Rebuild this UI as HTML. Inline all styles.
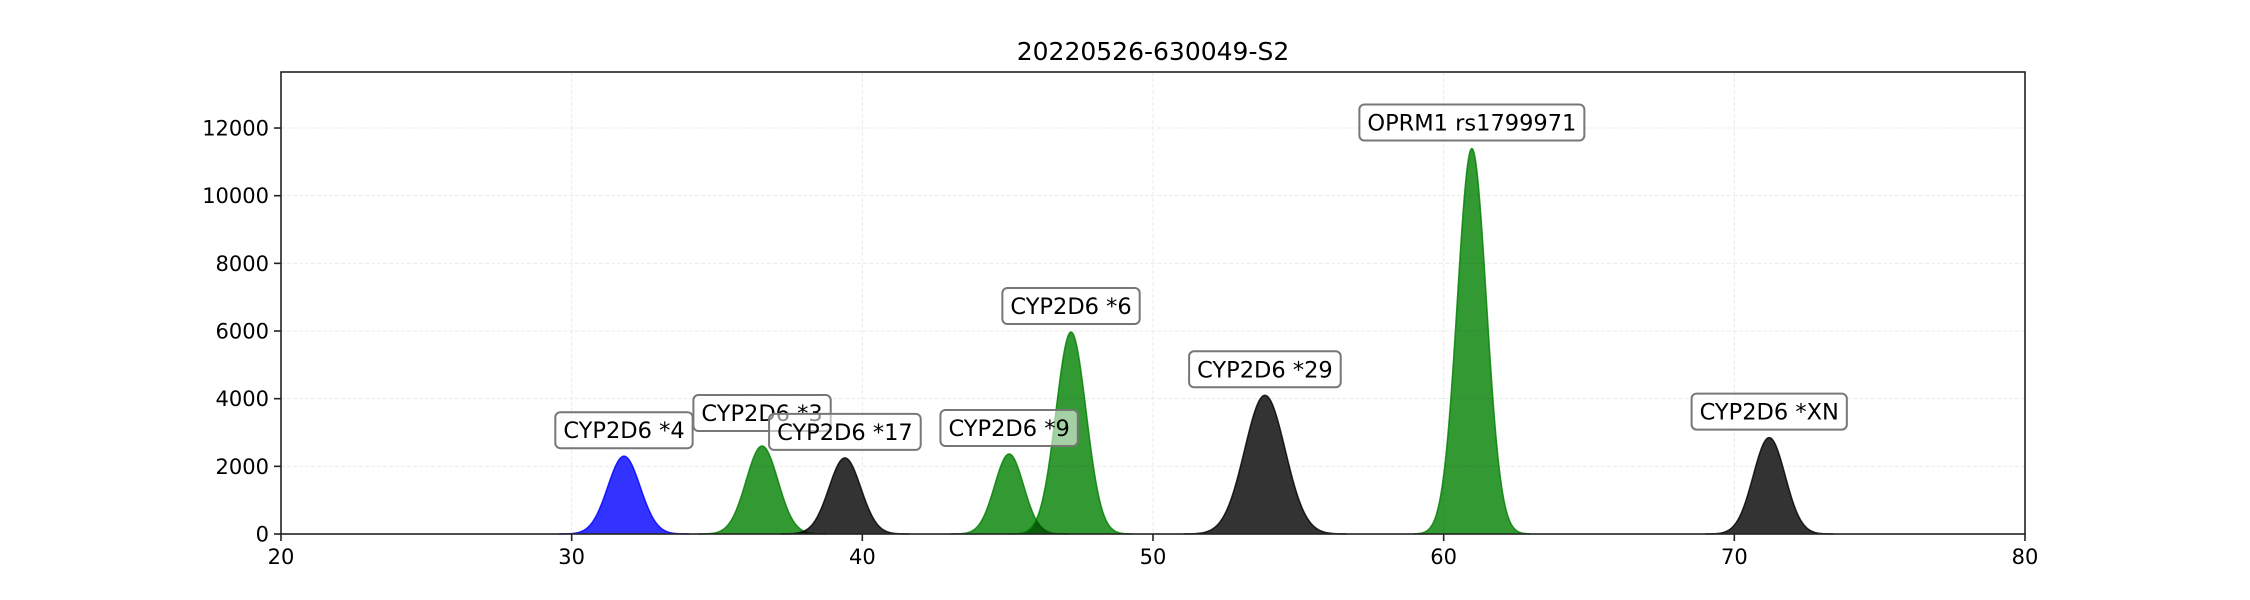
<!DOCTYPE html>
<html><head><meta charset="utf-8"><style>
html,body{margin:0;padding:0;background:#fff;}
svg{display:block;font-family:"DejaVu Sans","Liberation Sans",sans-serif;}
</style></head><body>
<svg id="chart" width="2250" height="600" viewBox="0 0 2250 600" xmlns="http://www.w3.org/2000/svg">
<rect x="0" y="0" width="2250" height="600" fill="#fff"/>
<text x="1153" y="60" text-anchor="middle" font-size="25" fill="#000">20220526-630049-S2</text>
<g id="grid"></g>
<g id="peaks"></g>
<g id="axes"></g>
<g id="labels"></g>
</svg>
<script>
const names = ["CYP2D6 *4","CYP2D6 *3","CYP2D6 *17","CYP2D6 *9","CYP2D6 *6","CYP2D6 *29","OPRM1 rs1799971","CYP2D6 *XN"];
const centers = [31.8, 36.55, 39.4, 45.05, 47.18, 53.85, 60.97, 71.2];
const heights = [2300, 2600, 2250, 2365, 5970, 4100, 11395, 2850];
const sigmas = [0.56, 0.55, 0.55, 0.5, 0.52, 0.7, 0.5, 0.55];
const colorKeys = ["blue","green","black","green","green","black","green","black"];
const xTicks = [20,30,40,50,60,70,80];
const yTicks = [0,2000,4000,6000,8000,10000,12000];

const L=281, R=2025, T=72, B=534, XMIN=20, XMAX=80, YMIN=0, YMAX=13656;
const sx = v => L + (v-XMIN)/(XMAX-XMIN)*(R-L);
const sy = v => B - (v-YMIN)/(YMAX-YMIN)*(B-T);
const NS="http://www.w3.org/2000/svg";
const fills={blue:"rgb(51,51,255)",green:"rgb(51,153,51)",black:"rgb(51,51,51)"};
const strokes={blue:"#0000ff",green:"#008000",black:"#000"};
function mk(tag,attrs,parent){const e=document.createElementNS(NS,tag);for(const k in attrs)e.setAttribute(k,attrs[k]);parent.appendChild(e);return e;}

const grid=document.getElementById('grid');
xTicks.forEach(t=>{const l=mk('line',{x1:sx(t),x2:sx(t),y1:T,y2:B,stroke:"#ebebeb","stroke-width":1,"stroke-dasharray":"4,2"},grid);

});
yTicks.forEach(t=>{const l=mk('line',{x1:L,x2:R,y1:sy(t),y2:sy(t),stroke:"#ebebeb","stroke-width":1,"stroke-dasharray":"4,2"},grid);

});

const pk=document.getElementById('peaks');
for(let i=0;i<names.length;i++){
  const c=centers[i],h=heights[i],s=sigmas[i];
  const x0=c-4*s,x1=c+4*s;let d="M"+sx(x0)+","+sy(0);let line="";
  for(let k=0;k<=160;k++){const x=x0+(x1-x0)*k/160;const y=h*Math.exp(-0.5*((x-c)/s)**2);
    d+=" L"+sx(x).toFixed(2)+","+sy(y).toFixed(2);line+=(k?" L":"M")+sx(x).toFixed(2)+","+sy(y).toFixed(2);}
  d+=" L"+sx(x1)+","+sy(0)+" Z";
  const p=mk('path',{d:d,fill:fills[colorKeys[i]],"fill-opacity":1,stroke:"none"},pk);
  p.setAttribute('style','mix-blend-mode:multiply');
  
  
  const ln=mk('path',{d:line,fill:"none",stroke:strokes[colorKeys[i]],"stroke-width":1.5,"stroke-opacity":0.8},pk);
  
  
}

const ax=document.getElementById('axes');
const frame=mk('rect',{x:L,y:T,width:R-L,height:B-T,fill:"none",stroke:"#222","stroke-width":1.6},ax);


xTicks.forEach(t=>{mk('line',{x1:sx(t),x2:sx(t),y1:B,y2:B+7,stroke:"#222","stroke-width":1.6},ax);
const tx=mk('text',{x:sx(t),y:B+30,"text-anchor":"middle","font-size":21,fill:"#000"},ax);tx.textContent=t;

});
yTicks.forEach(t=>{mk('line',{x1:L-7,x2:L,y1:sy(t),y2:sy(t),stroke:"#222","stroke-width":1.6},ax);
const tx=mk('text',{x:L-12,y:sy(t)+7.5,"text-anchor":"end","font-size":21,fill:"#000"},ax);tx.textContent=t;

});

const gaps=[8,15,8,8,8,8,8,8];
const lab=document.getElementById('labels');
for(let i=0;i<names.length;i++){
  const cx=sx(centers[i]),bottom=sy(heights[i])-gaps[i];
  const g=mk('g',{},lab);
  
  
  const t=mk('text',{x:cx,y:bottom-10,"text-anchor":"middle","font-size":22.5,fill:"#000"},g);
  t.textContent=names[i];
  const w=t.getComputedTextLength()+16;
  const r=mk('rect',{x:cx-w/2,y:bottom-36,width:w,height:36,rx:5,ry:5,fill:"#fff","fill-opacity":0.55,stroke:"#777","stroke-width":2},g);
  g.insertBefore(r,t);
}
</script>
</body></html>
